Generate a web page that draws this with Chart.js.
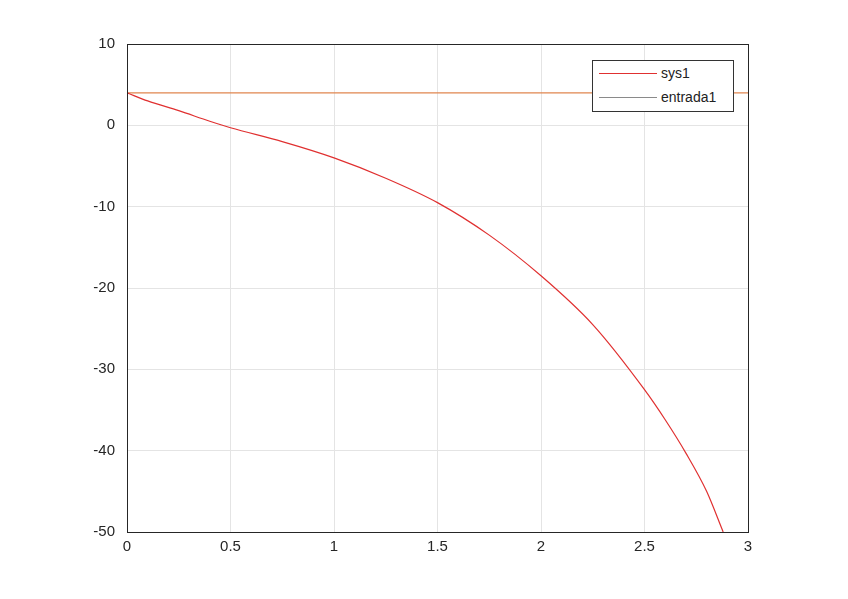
<!DOCTYPE html>
<html>
<head>
<script src="https://cdn.jsdelivr.net/npm/chart.js@4"></script>
<style>
body { margin: 0; background: #fff; }
#wrap { position: relative; width: 848px; height: 599px; }
#legend { position: absolute; left: 592px; top: 60px; width: 140px; height: 50px; border: 1px solid #333; background: #fff;
  font: 14px "Liberation Sans", Arial, sans-serif; color: #222; }
#legend div { height: 24px; line-height: 24px; display: flex; align-items: center; }
#legend span.l { display: inline-block; width: 58px; height: 1px; margin: 0 4px 0 6px; }
</style>
</head>
<body>
<div id="wrap">
<canvas id="c" width="848" height="599"></canvas>
<div id="legend">
  <div><span class="l" style="background:#e03030"></span>sys1</div>
  <div><span class="l" style="background:#8a8a8a"></span>entrada1</div>
</div>
</div>
<script>
// data
let timeVals = [0, 0.1, 0.25, 0.4, 0.5, 0.75, 1.0, 1.25, 1.5, 1.75, 2.0, 2.25, 2.5, 2.6, 2.7, 2.8, 2.88];
let sys1Vals = [4, 3.0, 1.8, 0.5, -0.3, -2, -4, -6.5, -9.5, -13.5, -18.5, -24.5, -32.5, -36.2, -40.3, -45, -50];
let entradaX = [0, 3];
let entradaVals = [4, 4];
let xTicks = [0, 0.5, 1, 1.5, 2, 2.5, 3];
let yTicks = [10, 0, -10, -20, -30, -40, -50];

const boxPlugin = {
  id: "box",
  afterDraw(chart) {
    let a = chart.chartArea, ctx = chart.ctx;
    ctx.save();
    ctx.strokeStyle = "#262626";
    ctx.lineWidth = 1;
    ctx.strokeRect(a.left + 0.5, a.top + 0.5, a.right - a.left, a.bottom - a.top);
    ctx.restore();
  }
};

new Chart(document.getElementById("c"), {
  type: "line",
  data: {
    datasets: [
      { label: "sys1", data: timeVals.map((t, i) => ({ x: t, y: sys1Vals[i] })), borderColor: "#e03030", borderWidth: 1.2, pointRadius: 0, cubicInterpolationMode: "monotone" },
      { label: "entrada1", data: entradaX.map((t, i) => ({ x: t, y: entradaVals[i] })), borderColor: "#e0864f", borderWidth: 1.2, pointRadius: 0 }
    ]
  },
  options: {
    responsive: false,
    animation: false,
    layout: { padding: { top: 44, right: 100, left: 0, bottom: 0 } },
    plugins: { legend: { display: false }, tooltip: { enabled: false } },
    scales: {
      x: {
        type: "linear", min: 0, max: 3,
        afterBuildTicks: s => { s.ticks = xTicks.map(v => ({ value: v })); },
        afterFit: s => { s.height = 67; },
        grid: { color: "#e4e4e4", drawTicks: false },
        border: { display: false },
        ticks: { color: "#262626", font: { family: "Liberation Sans", size: 15 }, padding: 6, maxRotation: 0, callback: v => String(v) }
      },
      y: {
        min: -50, max: 10,
        afterBuildTicks: s => { s.ticks = yTicks.map(v => ({ value: v })); },
        afterFit: s => { s.width = 127; },
        grid: { color: "#e4e4e4", drawTicks: false },
        border: { display: false },
        ticks: { color: "#262626", font: { family: "Liberation Sans", size: 15 }, padding: 12, callback: v => String(v) }
      }
    }
  },
  plugins: [boxPlugin]
});
</script>
</body>
</html>
